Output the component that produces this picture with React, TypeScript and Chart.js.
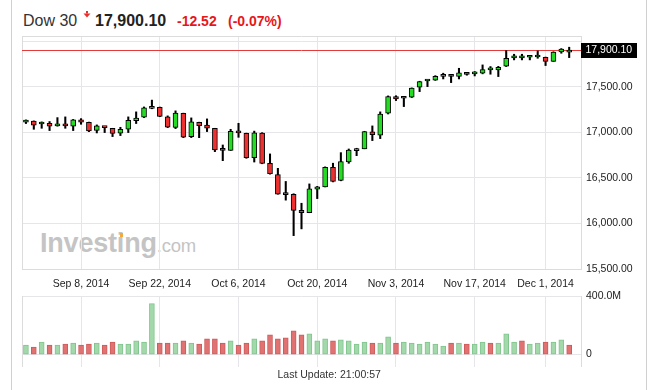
import React, { useEffect, useRef } from "react";
import { Chart, registerables } from "chart.js";
Chart.register(...registerables);

const DATES = ["Aug 27, 2014", "Aug 28, 2014", "Aug 29, 2014", "Sep 2, 2014", "Sep 3, 2014", "Sep 4, 2014", "Sep 5, 2014", "Sep 8, 2014", "Sep 9, 2014", "Sep 10, 2014", "Sep 11, 2014", "Sep 12, 2014", "Sep 15, 2014", "Sep 16, 2014", "Sep 17, 2014", "Sep 18, 2014", "Sep 19, 2014", "Sep 22, 2014", "Sep 23, 2014", "Sep 24, 2014", "Sep 25, 2014", "Sep 26, 2014", "Sep 29, 2014", "Sep 30, 2014", "Oct 1, 2014", "Oct 2, 2014", "Oct 3, 2014", "Oct 6, 2014", "Oct 7, 2014", "Oct 8, 2014", "Oct 9, 2014", "Oct 10, 2014", "Oct 13, 2014", "Oct 14, 2014", "Oct 15, 2014", "Oct 16, 2014", "Oct 17, 2014", "Oct 20, 2014", "Oct 21, 2014", "Oct 22, 2014", "Oct 23, 2014", "Oct 24, 2014", "Oct 27, 2014", "Oct 28, 2014", "Oct 29, 2014", "Oct 30, 2014", "Oct 31, 2014", "Nov 3, 2014", "Nov 4, 2014", "Nov 5, 2014", "Nov 6, 2014", "Nov 7, 2014", "Nov 10, 2014", "Nov 11, 2014", "Nov 12, 2014", "Nov 13, 2014", "Nov 14, 2014", "Nov 17, 2014", "Nov 18, 2014", "Nov 19, 2014", "Nov 20, 2014", "Nov 21, 2014", "Nov 24, 2014", "Nov 25, 2014", "Nov 26, 2014", "Nov 28, 2014", "Dec 1, 2014", "Dec 2, 2014", "Dec 3, 2014", "Dec 4, 2014"];

const OPEN = [
  17110, 17122, 17090, 17098, 17070, 17087, 17065, 17135, 17109, 17020,
  17056, 17043, 16990, 17032, 17127, 17164, 17262, 17274, 17168, 17052,
  17208, 16950, 17109, 17078, 17043, 16806, 16801, 17010, 16988, 16720,
  16990, 16659, 16535, 16325, 16319, 16143, 16118, 16376, 16400, 16614,
  16470, 16675, 16798, 16818, 17005, 16968, 17208, 17392, 17372, 17384,
  17493, 17562, 17572, 17612, 17614, 17612, 17640, 17640, 17647, 17684,
  17682, 17724, 17815, 17815, 17822, 17825, 17820, 17777, 17880, 17877,
];
const HIGH = [
  17135, 17124, 17113, 17117, 17160, 17168, 17140, 17149, 17111, 17080,
  17058, 17043, 17054, 17168, 17223, 17277, 17352, 17276, 17179, 17234,
  17209, 17157, 17110, 17146, 17043, 16860, 17032, 17098, 16990, 17012,
  16995, 16762, 16604, 16460, 16325, 16221, 16433, 16406, 16620, 16660,
  16776, 16816, 16824, 17010, 17069, 17223, 17398, 17400, 17385, 17486,
  17559, 17575, 17620, 17647, 17628, 17701, 17650, 17665, 17738, 17720,
  17722, 17894, 17855, 17855, 17840, 17891, 17824, 17882, 17917, 17932,
];
const LOW = [
  17095, 17032, 17043, 17018, 17066, 17043, 17018, 17087, 17006, 16992,
  16996, 16952, 16963, 16996, 17095, 17160, 17257, 17170, 17050, 17040,
  16940, 16941, 16940, 17007, 16787, 16688, 16800, 16944, 16714, 16673,
  16654, 16540, 16320, 16255, 15866, 15940, 16117, 16272, 16400, 16455,
  16467, 16659, 16743, 16818, 16908, 16930, 17200, 17347, 17281, 17380,
  17445, 17500, 17568, 17584, 17544, 17584, 17625, 17617, 17640, 17636,
  17610, 17720, 17793, 17793, 17793, 17811, 17731, 17776, 17866, 17818,
];
const CLOSE = [
  17122, 17078, 17098, 17067, 17078, 17069, 17137, 17111, 17014, 17069,
  17050, 16988, 17032, 17131, 17155, 17266, 17282, 17172, 17056, 17210,
  16946, 17113, 17073, 17043, 16805, 16801, 17010, 16992, 16720, 16994,
  16659, 16544, 16321, 16315, 16142, 16117, 16380, 16400, 16615, 16461,
  16678, 16805, 16818, 17006, 16974, 17198, 17392, 17366, 17383, 17484,
  17555, 17574, 17614, 17615, 17612, 17652, 17635, 17648, 17688, 17686,
  17712, 17810, 17818, 17815, 17827, 17828, 17777, 17880, 17912, 17900.1,
];
// volume, millions
const VOLUME = [
  65, 51, 86, 65, 65, 72, 79, 65, 72, 79,
  65, 86, 72, 72, 93, 86, 348, 79, 79, 79,
  93, 79, 72, 107, 107, 79, 93, 65, 79, 107,
  93, 135, 107, 114, 162, 135, 142, 93, 107, 93,
  100, 93, 72, 86, 79, 79, 121, 79, 86, 79,
  72, 86, 72, 58, 79, 79, 72, 72, 86, 79,
  79, 142, 86, 93, 72, 79, 86, 86, 100, 65,
];

const TICK_LABELS = ["Sep 8, 2014", "Sep 22, 2014", "Oct 6, 2014", "Oct 20, 2014", "Nov 3, 2014", "Nov 17, 2014", "Dec 1, 2014"];
const PRICE_TICKS = [15500, 16000, 16500, 17000, 17500, 18000];
const HIDDEN_PRICE_TICKS = [18000];
const VOLUME_TICKS = [0, 400];
const PRICE_MIN = 15500;
const PRICE_MAX = 18055;
const VOL_MIN = -85;
const VOL_MAX = 400;

const TITLE = "Dow 30";
const LAST_TEXT = "17,900.10";
const CHANGE_TEXT = "-12.52";
const CHANGE_PCT_TEXT = "(-0.07%)";
const UPDATE_TEXT = "Last Update: 21:00:57";

const FONT = '"Liberation Sans", Arial, Helvetica, sans-serif';
const GRID = "#e6e6ea";
const FRAME = "#dcdcdc";
const GREEN = "#25dc25";
const RED = "#ee3030";
const VOL_GREEN = "#a2d8aa";
const VOL_GREEN_B = "#80c58e";
const VOL_RED = "#e07272";
const VOL_RED_B = "#cf5a5a";

const LABELS = [...DATES, ""];
const LAST_CLOSE = CLOSE[CLOSE.length - 1];

function fmt2(v: number) {
  const s = v.toFixed(2);
  const [i, d] = s.split(".");
  return i.replace(/\B(?=(\d{3})+(?!\d))/g, ",") + "." + d;
}

const isLabelled = (i: number) => TICK_LABELS.includes(LABELS[i]);

const framePlugin = {
  id: "frame",
  beforeDatasetsDraw(chart: any, _a: any, opts: any) {
    const { ctx, chartArea } = chart;
    const { left, top, right, bottom } = chartArea;
    ctx.save();
    ctx.strokeStyle = FRAME;
    ctx.lineWidth = 1;
    ctx.beginPath();
    const lx = Math.round(left) + 0.5;
    ctx.moveTo(lx, top);
    ctx.lineTo(lx, bottom);
    if (opts && opts.top) {
      const ty = Math.round(top) + 0.5;
      ctx.moveTo(left, ty);
      ctx.lineTo(right, ty);
    }
    ctx.stroke();
    if (opts && opts.lastLine) {
      const y = Math.round(chart.scales.y.getPixelForValue(LAST_CLOSE)) + 0.5;
      ctx.strokeStyle = "#e23b3b";
      ctx.beginPath();
      ctx.moveTo(left, y);
      ctx.lineTo(right, y);
      ctx.stroke();
    }
    ctx.restore();
  },
  afterDraw(chart: any, _a: any, opts: any) {
    if (!opts || !opts.lastLine) return;
    const { ctx, chartArea } = chart;
    const y = chart.scales.y.getPixelForValue(LAST_CLOSE);
    ctx.save();
    ctx.fillStyle = "#000";
    ctx.fillRect(chartArea.right, Math.round(y) - 7, 56, 15);
    ctx.fillStyle = "#fff";
    ctx.font = `10.5px ${FONT}`;
    ctx.textBaseline = "middle";
    ctx.textAlign = "left";
    ctx.fillText(fmt2(LAST_CLOSE), chartArea.right + 4.5, Math.round(y) + 0.5);
    ctx.restore();
  },
};

export default function App() {
  const priceRef = useRef<HTMLCanvasElement | null>(null);
  const volRef = useRef<HTMLCanvasElement | null>(null);

  useEffect(() => {
    const tickFont = { family: FONT, size: 10.5 };
    const xGrid = {
      offset: false,
      drawTicks: false,
      color: (c: any) => (isLabelled(c.index) ? GRID : "rgba(0,0,0,0)"),
    };

    const bodies = OPEN.map((o, i) => [Math.min(o, CLOSE[i]), Math.max(o, CLOSE[i])]);
    const wicks = LOW.map((l, i) => [l, HIGH[i]]);
    const bodyColors = OPEN.map((o, i) => (CLOSE[i] >= o ? GREEN : RED));

    const price = new Chart(priceRef.current as HTMLCanvasElement, {
      type: "bar",
      data: {
        labels: LABELS,
        datasets: [
          {
            data: bodies as any,
            backgroundColor: bodyColors,
            borderColor: "#000",
            borderWidth: 1,
            borderSkipped: false,
            barThickness: 5,
            minBarLength: 2,
            grouped: false,
            order: 0,
          } as any,
          {
            data: wicks as any,
            backgroundColor: "#000",
            borderWidth: 0,
            barThickness: 1.4,
            grouped: false,
            order: 1,
          } as any,
        ],
      },
      options: {
        responsive: false,
        animation: false,
        events: [],
        layout: { padding: { left: 22, top: 36, right: 0, bottom: 0 } },
        plugins: {
          legend: { display: false },
          tooltip: { enabled: false },
          frame: { top: true, lastLine: true },
        } as any,
        scales: {
          x: {
            type: "category",
            offset: true,
            grid: xGrid as any,
            border: { display: true, color: FRAME },
            ticks: {
              autoSkip: false,
              maxRotation: 0,
              minRotation: 0,
              padding: 9,
              font: tickFont,
              color: "#222",
              callback: (_v: any, i: number) => (isLabelled(i) ? LABELS[i] : ""),
            },
            afterFit: (s: any) => {
              s.height = 31;
              s.paddingLeft = 0;
              s.paddingRight = 0;
            },
          },
          y: {
            position: "right",
            min: PRICE_MIN,
            max: PRICE_MAX,
            grid: { color: GRID, drawTicks: false },
            border: { display: true, color: FRAME },
            afterBuildTicks: (s: any) => {
              s.ticks = PRICE_TICKS.map((v) => ({ value: v }));
            },
            ticks: {
              padding: 5,
              font: tickFont,
              color: "#222",
              callback: (v: any) => (HIDDEN_PRICE_TICKS.includes(Number(v)) ? "" : fmt2(Number(v))),
            },
            afterFit: (s: any) => {
              s.width = 68;
              s.paddingTop = 0;
              s.paddingBottom = 0;
            },
          },
        },
      },
      plugins: [framePlugin as any],
    });

    const volColors = VOLUME.map((_, i) =>
      (i === 0 ? CLOSE[0] >= OPEN[0] : CLOSE[i] >= CLOSE[i - 1]) ? VOL_GREEN : VOL_RED
    );
    const volBorders = VOLUME.map((_, i) =>
      (i === 0 ? CLOSE[0] >= OPEN[0] : CLOSE[i] >= CLOSE[i - 1]) ? VOL_GREEN_B : VOL_RED_B
    );

    const vol = new Chart(volRef.current as HTMLCanvasElement, {
      type: "bar",
      data: {
        labels: LABELS,
        datasets: [
          {
            data: VOLUME,
            backgroundColor: volColors,
            borderColor: volBorders,
            borderWidth: 1,
            borderSkipped: false,
            barThickness: 5,
          } as any,
        ],
      },
      options: {
        responsive: false,
        animation: false,
        events: [],
        layout: { padding: { left: 22, top: 11, right: 0, bottom: 0 } },
        plugins: {
          legend: { display: false },
          tooltip: { enabled: false },
          frame: { top: false, lastLine: false },
        } as any,
        scales: {
          x: {
            type: "category",
            offset: true,
            grid: xGrid as any,
            border: { display: false },
            ticks: { display: false, autoSkip: false },
            afterFit: (s: any) => {
              s.height = 0;
              s.paddingLeft = 0;
              s.paddingRight = 0;
            },
          },
          y: {
            position: "right",
            min: VOL_MIN,
            max: VOL_MAX,
            grid: { color: GRID, drawTicks: false },
            border: { display: true, color: FRAME },
            afterBuildTicks: (s: any) => {
              s.ticks = VOLUME_TICKS.map((v) => ({ value: v }));
            },
            ticks: {
              padding: 5,
              font: tickFont,
              color: "#222",
              callback: (v: any) => (Number(v) === 0 ? "0" : Number(v).toFixed(1) + "M"),
            },
            afterFit: (s: any) => {
              s.width = 68;
              s.paddingTop = 0;
              s.paddingBottom = 0;
            },
          },
        },
      },
      plugins: [framePlugin as any],
    });

    return () => {
      price.destroy();
      vol.destroy();
    };
  }, []);

  const abs = (o: any) => ({ position: "absolute" as const, ...o });

  return (
    <div style={abs({ left: 0, top: 0, width: 649, height: 390, background: "#fff", overflow: "hidden", fontFamily: FONT })}>
      <div style={abs({ left: 11, top: 0, width: 1, height: 390, background: "#d0d0d0" })} />
      <div style={abs({ left: 646, top: 0, width: 1, height: 390, background: "#d0d0d0" })} />

      <div style={abs({ left: 23, top: 12.5, fontSize: 16, lineHeight: "16px", color: "#333", whiteSpace: "nowrap" })}>{TITLE}</div>
      <svg style={abs({ left: 83, top: 11 })} width={8} height={7} viewBox="0 0 8 7">
        <rect x={3} y={0} width={2} height={2.5} fill="#e8302e" />
        <polygon points="0.5,2.5 7.5,2.5 4,6.5" fill="#e8302e" />
      </svg>
      <div style={abs({ left: 95, top: 12.5, fontSize: 16, lineHeight: "16px", fontWeight: 700, color: "#222", whiteSpace: "nowrap" })}>{LAST_TEXT}</div>
      <div style={abs({ left: 177, top: 14.2, fontSize: 14, lineHeight: "14px", fontWeight: 700, color: "#e8161b", whiteSpace: "nowrap" })}>{CHANGE_TEXT}</div>
      <div style={abs({ left: 228, top: 14.2, fontSize: 14, lineHeight: "14px", fontWeight: 700, color: "#e8161b", whiteSpace: "nowrap" })}>{CHANGE_PCT_TEXT}</div>

      <div style={abs({ left: 40, top: 230, fontSize: 27, lineHeight: "27px", fontWeight: 700, color: "#c4c4c4", whiteSpace: "nowrap", letterSpacing: -0.2 })}>
        Investing<span style={{ fontSize: 18.5, fontWeight: 400 }}>.com</span>
      </div>
      <div style={abs({ left: 119.5, top: 232.5, width: 3.6, height: 4, background: "#f2a93b" })} />

      <canvas ref={priceRef} width={649} height={300} style={abs({ left: 0, top: 0, width: 649, height: 300 })} />
      <canvas ref={volRef} width={649} height={82} style={abs({ left: 0, top: 285, width: 649, height: 82 })} />

      <div style={abs({ left: 277.5, top: 368, fontSize: 10.5, lineHeight: "12px", color: "#333", whiteSpace: "nowrap" })}>{UPDATE_TEXT}</div>
    </div>
  );
}
